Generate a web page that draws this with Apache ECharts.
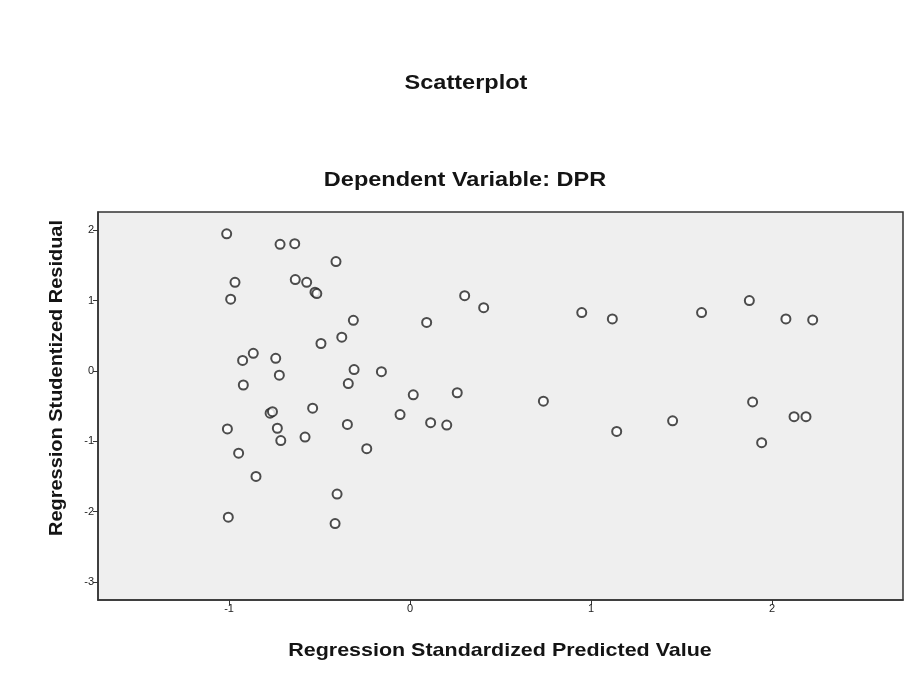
<!DOCTYPE html>
<html>
<head>
<meta charset="utf-8">
<script src="https://cdn.jsdelivr.net/npm/echarts@6/dist/echarts.min.js"></script>
<style>
  html, body { margin: 0; padding: 0; background: #ffffff; }
  #chart { width: 909px; height: 674px; }
</style>
</head>
<body>
<div id="chart"></div>
<script>
// Regression standardized predicted values (x) and studentized residuals (y)
const predicted = [
  -1.013, -0.718, -0.637, -0.409, -0.967, -0.991, -0.634, -0.571, -0.525, -0.515,
  -0.313, -0.377, -0.492, -0.866, -0.925, -0.742, -0.722, -0.309, -0.158, -0.921,
  -0.341, -0.773, -0.760, -0.538, -1.009, -0.733, -0.714, -0.580, -0.346, -0.239,
  -0.947, -0.851, -0.403, -1.004, -0.414, 0.302, 0.407, 0.092, 0.949, 1.118,
  0.018, 0.261, 0.737, -0.055, 0.114, 0.203, 1.142, 1.611, 1.875, 2.077,
  2.225, 1.893, 1.451, 2.122, 2.188, 1.943
];
const residual = [
  1.95, 1.80, 1.81, 1.555, 1.26, 1.02, 1.30, 1.26, 1.12, 1.10,
  0.72, 0.48, 0.39, 0.25, 0.15, 0.18, -0.06, 0.02, -0.01, -0.20,
  -0.18, -0.60, -0.58, -0.53, -0.825, -0.815, -0.99, -0.94, -0.76, -1.105,
  -1.17, -1.50, -1.75, -2.08, -2.17, 1.07, 0.90, 0.69, 0.83, 0.74,
  -0.34, -0.31, -0.43, -0.62, -0.735, -0.77, -0.86, 0.83, 1.00, 0.74,
  0.725, -0.44, -0.71, -0.65, -0.65, -1.02
];
const xTicks = [-1, 0, 1, 2];
const yTicks = [-3, -2, -1, 0, 1, 2];
const chartTitle = 'Scatterplot';
const chartSubtitle = 'Dependent Variable: DPR';
const xTitle = 'Regression Standardized Predicted Value';
const yTitle = 'Regression Studentized Residual';

const points = predicted.map((x, i) => [x, residual[i]]);

const chart = echarts.init(document.getElementById('chart'), null, { renderer: 'canvas' });
const FONT = 'Liberation Sans, Arial, sans-serif';
function label(text, x, y, size, sx, rot) {
  return {
    type: 'text', x: x, y: y, scaleX: sx, rotation: rot || 0, silent: true,
    style: { text: text, font: 'bold ' + size + 'px ' + FONT, fill: '#141414', textAlign: 'center', textVerticalAlign: 'middle' }
  };
}
chart.setOption({
  backgroundColor: '#ffffff',
  animation: false,
  graphic: [
    label(chartTitle, 466, 83, 21, 1.12),
    label(chartSubtitle, 465, 180, 21, 1.12),
    label(xTitle, 500, 651, 19, 1.13),
    label(yTitle, 57, 378, 19, 1.05, Math.PI / 2)
  ],
  grid: {
    left: 98, top: 212, right: 6, bottom: 74,
    show: true, backgroundColor: '#efefef', borderColor: '#333', borderWidth: 1.5
  },
  xAxis: {
    type: 'value', min: -1.724, max: 2.724,
    axisLine: { show: true, onZero: false, lineStyle: { color: '#333', width: 1.5 } },
    axisTick: { show: true, length: 5, customValues: xTicks, lineStyle: { color: '#333' } },
    axisLabel: { customValues: xTicks, fontFamily: FONT, fontSize: 11, color: '#222', margin: 3 },
    splitLine: { show: false }
  },
  yAxis: {
    type: 'value', min: -3.257, max: 2.26,
    axisLine: { show: true, onZero: false, lineStyle: { color: '#333', width: 1.5 } },
    axisTick: { show: true, length: 5, customValues: yTicks, lineStyle: { color: '#333' } },
    axisLabel: { customValues: yTicks, fontFamily: FONT, fontSize: 11, color: '#222', margin: 4 },
    splitLine: { show: false }
  },
  series: [{
    type: 'scatter',
    data: points,
    symbol: 'emptyCircle',
    symbolSize: 9,
    itemStyle: { color: '#222', borderColor: '#222', borderWidth: 1.5 }
  }]
});
</script>
</body>
</html>
